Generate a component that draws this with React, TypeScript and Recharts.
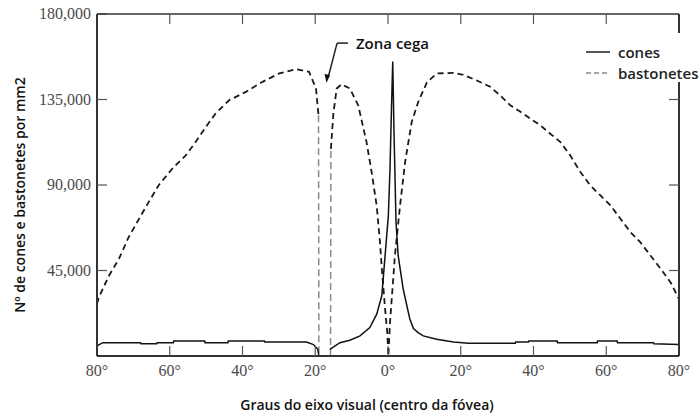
import { LineChart, Line, XAxis, YAxis, Legend, ReferenceLine, ReferenceDot } from "recharts";

// graus a partir do centro da fóvea (negativo = lado esquerdo)
const xTicks = [-80, -60, -40, -20, 0, 20, 40, 60, 80];
const yTicks = [45000, 90000, 135000, 180000];
const X_MIN = -80;
const X_MAX = 80;
const Y_MAX = 180000;

const rodDegrees = [
  -80, -79.5, -76.8, -74, -71.3, -68.5, -65.8, -63, -59.3, -55.6, -52.9, -50.1, -47.4, -43.7,
  -39.1, -34.5, -29.9, -25.3, -21.7, -19.8, -19.1, -17.4, -15.7, -15, -14.1,
  -12.8, -10.5, -8.2, -5.9, -4.5, -3.1, -2.2, -1.7, -0.8, -0.2, 0.1, 0.55, 1.9, 3.3, 4.7, 6.5,
  8.3, 10.7, 13.4, 18, 20.7, 24.4, 28.1, 30.9, 33.6, 36.4, 39.1, 41.9, 44.6, 47.4, 50.1, 52.9,
  55.6, 58.4, 61.2, 63.9, 66.7, 69.4, 72.2, 75, 77.7, 80,
];
const rodValues = [
  27500, 30800, 42000, 51000, 62500, 72000, 81000, 90000, 98600, 105600, 112600, 120500, 127600,
  134600, 139000, 144300, 148700, 151000, 149600, 140800, 126700, null, 109000, 128000,
  140800, 143000, 140800, 132000, 112600, 96800, 79000, 59800, 46000, 24800, 12300, 0, 17600,
  52800, 79000, 102000, 123000, 133700, 144000, 148700, 149000, 148000, 145000, 141700, 137000,
  132000, 128500, 125000, 121400, 117000, 112600, 105600, 96800, 89800, 84500, 79200, 72200,
  65100, 59800, 52800, 45800, 38700, 30000,
];

// bordas da zona cega (bastonetes caem a zero)
const blindDegrees = [-19.1, -19.0, -17.4, -15.8, -15.7];
const blindValues = [126700, 0, null, 0, 109000];

const coneDegrees = [
  -80, -78.4, -68, -67.9, -63.6, -63.5, -59, -58.9, -50.4, -50.3, -44, -43.9, -34, -33.9,
  -22.4, -20.5, -19.3, -19.0, -17.4, -16, -13.2, -10.5, -7.7, -5, -3.1, -1.7, -0.8, 0.1, 0.55,
  1, 1.3, 1.65, 2.2, 2.8, 4.2, 6, 7, 8.3, 9.7, 13.4, 18, 22.1, 35, 35.1, 38.6, 38.7, 46.5,
  46.6, 57.5, 57.6, 63, 63.1, 73, 73.1, 80,
];
const coneValues = [
  5300, 7000, 7000, 6500, 6500, 7000, 7000, 7900, 7900, 7000, 7000, 7900, 7900, 7400, 7400,
  6000, 3500, 0, null, 3500, 7000, 8300, 10600, 15000, 22000, 31700, 52800, 74000, 98700,
  133700, 155000, 118000, 70400, 52800, 35000, 19400, 14500, 12300, 10600, 8800, 7400, 6700,
  6700, 7400, 7400, 7900, 7900, 7000, 7000, 7900, 7900, 7000, 7000, 6500, 6000,
];

const rodsData = rodDegrees.map((x, i) => ({ x, v: rodValues[i] }));
const blindData = blindDegrees.map((x, i) => ({ x, v: blindValues[i] }));
const conesData = coneDegrees.map((x, i) => ({ x, v: coneValues[i] }));

// anotação "Zona cega" (coordenadas em graus / células por mm2)
const blindLabel = { x: -8.8, y: 164700 };
const blindArrow = [
  { x: -11, y: 164700 },
  { x: -14, y: 164700 },
  { x: -16.5, y: 146300 },
];
const blindTip = { x: -16.9, y: 143700 };

// caixa do gráfico (px) — mesma que sai das margens abaixo
const W = 700;
const H = 416;
const M = { top: 14, right: 21, left: 0, bottom: 0 };
const Y_AXIS_W = 97;
const X_AXIS_H = 60;
const box = { left: M.left + Y_AXIS_W, right: W - M.right, top: M.top, bottom: H - M.bottom - X_AXIS_H };
const px = (deg: number) => box.left + ((deg - X_MIN) / (X_MAX - X_MIN)) * (box.right - box.left);
const py = (val: number) => box.bottom - (val / Y_MAX) * (box.bottom - box.top);

const axisColor = "#333";
const serif = "Liberation Serif, Times New Roman, serif";
const sans = "'Open Sans', sans-serif";

const XTick = (p: any) => (
  <text x={p.x} y={p.y} dy={12} textAnchor="middle" style={{ fontFamily: serif, fontSize: 16 }} fill="#4a4a4a">
    {`${Math.abs(p.payload.value)}°`}
  </text>
);

const YTick = (p: any) => (
  <text x={p.x} y={p.y} dy={5} textAnchor="end" style={{ fontFamily: serif, fontSize: 16 }} fill="#4a4a4a">
    {p.payload.value.toLocaleString("en-US")}
  </text>
);

const renderLegend = () => (
  <div style={{ background: "#fff", fontFamily: sans, fontSize: 15, fontWeight: 600, color: "#222", paddingTop: 8, paddingBottom: 3 }}>
    <div style={{ display: "flex", alignItems: "center", height: 21 }}>
      <svg width={26} height={4}>
        <line x1={2} y1={2} x2={26} y2={2} stroke="#222" strokeWidth={1.5} />
      </svg>
      <span style={{ marginLeft: 8 }}>cones</span>
    </div>
    <div style={{ display: "flex", alignItems: "center", height: 21 }}>
      <svg width={26} height={4}>
        <line x1={2} y1={2} x2={26} y2={2} stroke="#888" strokeWidth={1.5} strokeDasharray="5 3" />
      </svg>
      <span style={{ marginLeft: 8 }}>bastonetes</span>
    </div>
  </div>
);

// moldura de cima e da direita (a legenda tapa a borda direita entre 33 e 82 px)
const Frame = () => (
  <svg width={W} height={H} style={{ position: "absolute", left: 0, top: 0, pointerEvents: "none" }}>
    <line x1={box.left} y1={box.top} x2={box.right} y2={box.top} stroke={axisColor} strokeWidth={1.5} />
    <line x1={box.right} y1={box.top} x2={box.right} y2={33} stroke={axisColor} strokeWidth={2} />
    <line x1={box.right} y1={82} x2={box.right} y2={box.bottom} stroke={axisColor} strokeWidth={2} />
    {xTicks.slice(1, -1).map((t) => (
      <line key={`t${t}`} x1={px(t)} y1={box.top} x2={px(t)} y2={box.top + 10} stroke="#555" strokeWidth={1.2} />
    ))}
    {yTicks.slice(0, -1).map((t) => (
      <line key={`r${t}`} x1={box.right} y1={py(t)} x2={box.right - 10} y2={py(t)} stroke="#555" strokeWidth={1.2} />
    ))}
  </svg>
);

export default function App() {
  return (
    <div style={{ position: "absolute", left: 0, top: 0, width: W, height: H, background: "#fff" }}>
      <LineChart width={W} height={H} margin={M}>
        <XAxis
          dataKey="x"
          type="number"
          domain={[X_MIN, X_MAX]}
          ticks={xTicks}
          allowDataOverflow
          height={X_AXIS_H}
          tickSize={-10}
          tickMargin={18}
          tick={<XTick />}
          axisLine={{ stroke: axisColor, strokeWidth: 2 }}
          tickLine={{ stroke: "#555", strokeWidth: 1.2 }}
          label={{
            content: () => (
              <text x={367} y={410} textAnchor="middle" fontFamily={sans} fontSize={14} fontWeight={600} fill="#111">
                Graus do eixo visual (centro da fóvea)
              </text>
            ),
          }}
        />
        <YAxis
          type="number"
          domain={[0, Y_MAX]}
          ticks={yTicks}
          allowDataOverflow
          width={Y_AXIS_W}
          tickSize={-10}
          tickMargin={16}
          tick={<YTick />}
          axisLine={{ stroke: axisColor, strokeWidth: 2 }}
          tickLine={{ stroke: "#555", strokeWidth: 1.2 }}
          label={{
            content: () => (
              <text
                transform="translate(19,195) rotate(-90)"
                textAnchor="middle"
                dominantBaseline="central"
                fontFamily={sans}
                fontSize={14}
                fontWeight={600}
                fill="#111"
              >
                Nº de cones e bastonetes por mm2
              </text>
            ),
          }}
        />
        <Line
          data={blindData}
          dataKey="v"
          type="linear"
          stroke="#8a8a8a"
          strokeWidth={1.5}
          strokeDasharray="7 4"
          dot={false}
          activeDot={false}
          connectNulls={false}
          legendType="none"
          isAnimationActive={false}
        />
        <Line
          data={rodsData}
          dataKey="v"
          name="bastonetes"
          type="linear"
          stroke="#1a1a1a"
          strokeWidth={1.8}
          strokeDasharray="6 4"
          dot={false}
          activeDot={false}
          connectNulls={false}
          isAnimationActive={false}
        />
        <Line
          data={conesData}
          dataKey="v"
          name="cones"
          type="linear"
          stroke="#111"
          strokeWidth={1.5}
          dot={false}
          activeDot={false}
          connectNulls={false}
          isAnimationActive={false}
        />
        <ReferenceLine segment={[blindArrow[0], blindArrow[1]]} stroke="#222" strokeWidth={1.5} />
        <ReferenceLine segment={[blindArrow[1], blindArrow[2]]} stroke="#222" strokeWidth={1.5} />
        <ReferenceDot
          x={blindTip.x}
          y={blindTip.y}
          r={0}
          shape={(p: any) => (
            <polygon
              points={`${p.cx},${p.cy} ${p.cx - 2},${p.cy - 9} ${p.cx + 3.5},${p.cy - 8}`}
              fill="#111"
            />
          )}
        />
        <ReferenceDot
          x={blindLabel.x}
          y={blindLabel.y}
          r={0}
          shape={(p: any) => (
            <text x={p.cx} y={p.cy} dominantBaseline="central" fontFamily={sans} fontSize={15} fontWeight={600} fill="#111">
              Zona cega
            </text>
          )}
        />
        <Legend
          layout="vertical"
          align="center"
          verticalAlign="middle"
          content={renderLegend}
          wrapperStyle={{ top: 33, left: 584, width: 116 }}
        />
      </LineChart>
      <Frame />
    </div>
  );
}
